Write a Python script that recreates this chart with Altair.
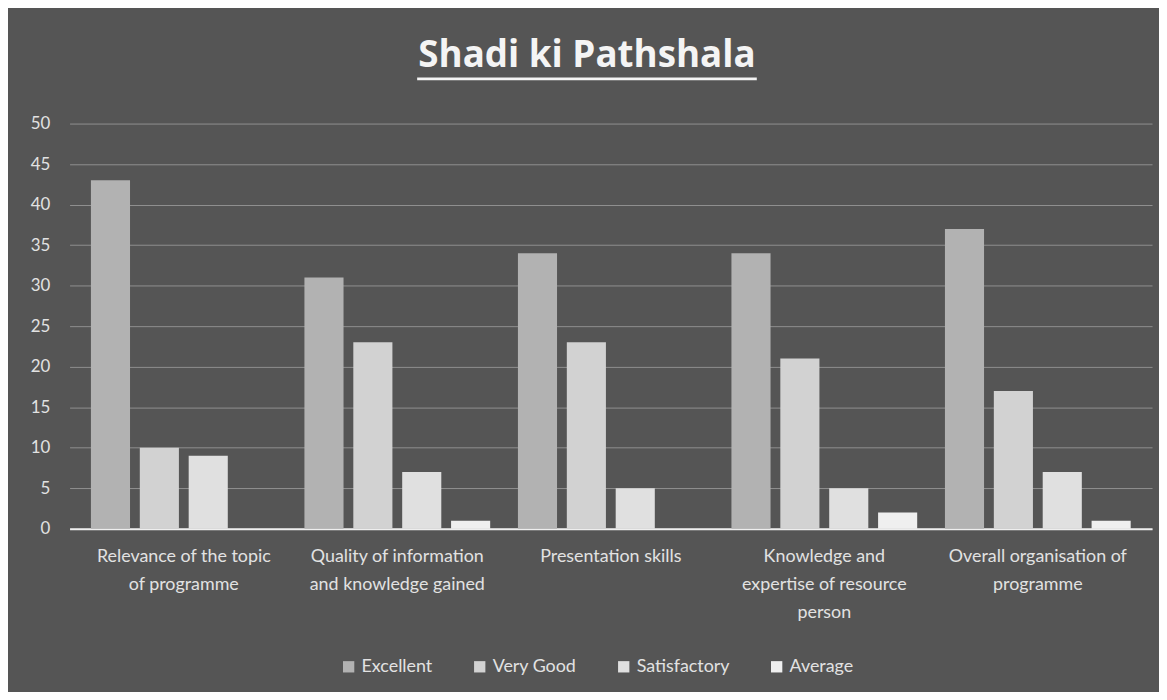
import altair as alt
import pandas as pd

categories = [
    "Relevance of the topic of programme",
    "Quality of information and knowledge gained",
    "Presentation skills",
    "Knowledge and expertise of resource person",
    "Overall organisation of programme",
]
label_lines = [
    ["Relevance of the topic", "of programme"],
    ["Quality of information", "and knowledge gained"],
    ["Presentation skills"],
    ["Knowledge and", "expertise of resource", "person"],
    ["Overall organisation of", "programme"],
]
series = ["Excellent", "Very Good", "Satisfactory", "Average"]
excellent = [43, 31, 34, 34, 37]
very_good = [10, 23, 23, 21, 17]
satisfactory = [9, 7, 5, 5, 7]
average = [0, 1, 0, 2, 1]
colors = ["#b2b2b2", "#d2d2d2", "#e0e0e0", "#efefef"]
y_ticks = [0, 5, 10, 15, 20, 25, 30, 35, 40, 45, 50]

rows = []
for s, vals in zip(series, [excellent, very_good, satisfactory, average]):
    for c, v in zip(categories, vals):
        rows.append({"Category": c, "Rating": s, "Count": v})
df = pd.DataFrame(rows)

expr = "''"
for c, lines in reversed(list(zip(categories, label_lines))):
    arr = "[" + ",".join("'" + l + "'" for l in lines) + "]"
    expr = f"datum.value == '{c}' ? {arr} : ({expr})"

font = "Lato"
text_color = "#e2e2e2"

bars = alt.Chart(df).mark_bar().encode(
    x=alt.X("Category:N", sort=categories, title=None,
            scale=alt.Scale(paddingInner=0.13, paddingOuter=0.1),
            axis=alt.Axis(labelExpr=expr, labelAngle=0, labelFont=font,
                          labelFontSize=18, labelColor=text_color,
                          labelLineHeight=28, labelPadding=19,
                          ticks=False, domain=True, domainColor="#eeeeee",
                          domainWidth=2, labelLimit=300)),
    xOffset=alt.XOffset("Rating:N", sort=series,
                        scale=alt.Scale(paddingInner=0.2)),
    y=alt.Y("Count:Q", title=None,
            scale=alt.Scale(domain=[0, 50]),
            axis=alt.Axis(values=y_ticks, labelFont=font, labelFontSize=17,
                          labelColor=text_color, ticks=False, domain=False,
                          gridColor="#a8a8a8", gridOpacity=0.7,
                          labelPadding=20)),
    color=alt.Color("Rating:N", sort=series,
                    scale=alt.Scale(domain=series, range=colors),
                    legend=alt.Legend(orient="none", legendX=272, legendY=538,
                                      direction="horizontal",
                                      title=None, symbolType="square",
                                      symbolSize=130, labelFont=font,
                                      labelFontSize=18, labelColor=text_color,
                                      columnPadding=38,
                                      symbolStrokeWidth=0)),
)

underline = alt.Chart(pd.DataFrame({"t": ["title"]})).mark_rule(
    color="#f4f4f4", strokeWidth=3, clip=False
).encode(
    x=alt.value(350), x2=alt.value(692), y=alt.value(-45)
)

chart = alt.layer(bars, underline).properties(
    width=1090, height=408,
    background="#555555",
    padding={"left": 62, "top": 114, "right": 7, "bottom": 162},
    autosize=alt.AutoSizeParams(type="none"),
    title=alt.TitleParams("Shadi ki Pathshala", font="Open Sans",
                          fontSize=37, fontWeight="bold", color="#f4f4f4",
                          anchor="middle", offset=2, dx=-24),
).configure_view(stroke=None)

chart.save("out.html", embed_options={"renderer": "svg", "actions": False})
